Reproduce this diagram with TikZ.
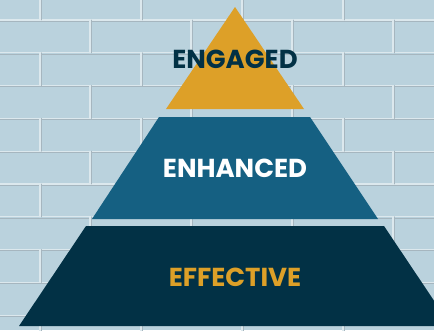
\documentclass[tikz,border=0pt]{standalone}
\usepackage{fontspec}
\setmainfont{Poppins}
\definecolor{wall}{HTML}{BAD2DD}
\definecolor{mortarlight}{HTML}{DCE8ED}
\definecolor{mortardark}{HTML}{A6B6BF}
\definecolor{gold}{HTML}{DDA028}
\definecolor{midblue}{HTML}{156082}
\definecolor{navy}{HTML}{023145}
\tikzset{
	mortar/.style={draw=mortarlight, line width=1.2pt},
	shade line/.style={draw=mortardark, line width=0.9pt},
	level text/.style={anchor=base, font=\bfseries\fontsize{26}{26}\selectfont}
}
\begin{document}
\begin{tikzpicture}[x=1pt, y=-1pt, line join=round, line cap=round]
	\useasboundingbox (0,0) rectangle (434,330);
	% brick wall
	\fill[wall] (0,0) rectangle (434,330);
	\begin{scope}
		\clip (0,0) rectangle (434,330);
		\foreach \k in {0,...,9}{
			\draw[shade line] (0,{21.3+32.8*\k}) -- (434,{21.3+32.8*\k});
			\draw[mortar] (0,{20+32.8*\k}) -- (434,{20+32.8*\k});
		}
		\foreach \k in {0,...,10}{
			\foreach \j in {-1,...,4}{
				\draw[shade line] ({mod(\k,2)*50+41.3+101*\j},{20+32.8*(\k-1)}) -- ++(0,32.8);
				\draw[mortar] ({mod(\k,2)*50+40+101*\j},{20+32.8*(\k-1)}) -- ++(0,32.8);
			}
		}
	\end{scope}
	% pyramid
	\path (235,7) coordinate (apex)
		(166,109) coordinate (A1) (304,109) coordinate (B1)
		(159,117) coordinate (A2) (310,117) coordinate (B2)
		(92,219) coordinate (C2) (378,219) coordinate (D2)
		(86,226) coordinate (A3) (384,226) coordinate (B3)
		(19,326) coordinate (C3) (451,326) coordinate (D3);
	\fill[gold] (apex)--(B1)--(A1)--cycle;
	\fill[midblue] (A2)--(B2)--(D2)--(C2)--cycle;
	\fill[navy] (A3)--(B3)--(D3)--(C3)--cycle;
	\node[level text, text=navy] (engaged) at (235,68) {ENGAGED};
	\node[level text, text=white] (enhanced) at (235,177) {ENHANCED};
	\node[level text, text=gold] (effective) at (235,286) {EFFECTIVE};
\end{tikzpicture}
\end{document}
